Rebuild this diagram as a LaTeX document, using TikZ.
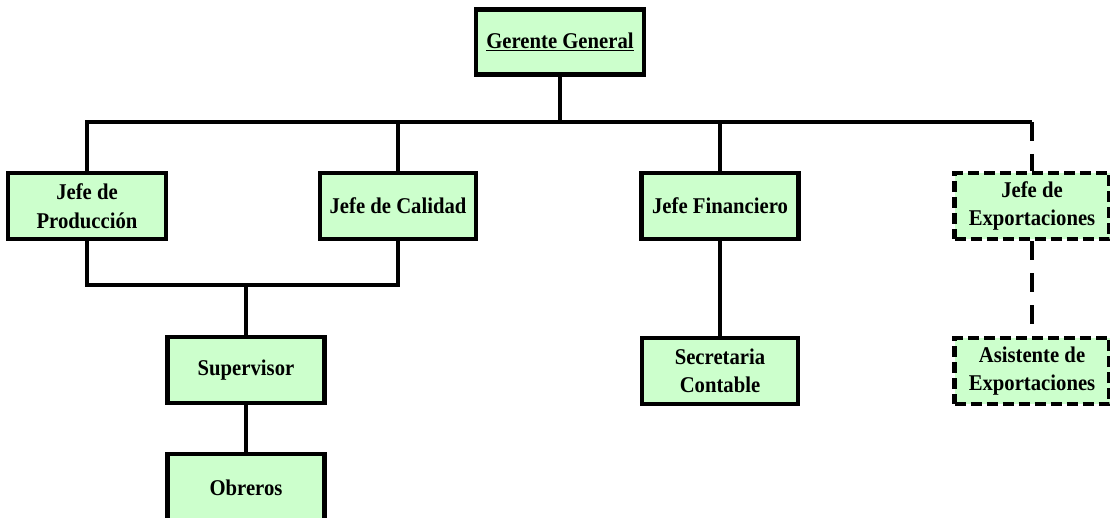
\documentclass[tikz,border=0pt]{standalone}
\usepackage{fontspec}
\setmainfont{Liberation Serif}
\newfontfamily\fuentecaja[FakeStretch=0.92]{Liberation Serif}
\usepackage{xcolor}
\usepackage{tikz}
\usetikzlibrary{calc, positioning}

\definecolor{verdecaja}{HTML}{CCFFCC}

\begin{document}
\begin{tikzpicture}[x=1pt, y=-1pt,
    caja/.style={draw, line width=4.5pt, fill=verdecaja, align=center,
        inner sep=0pt, minimum width=156pt, minimum height=66pt,
        font=\fuentecaja\fontsize{22.5}{28.5}\selectfont\bfseries},
    cajapunteada/.style={caja, dash pattern=on 11pt off 5pt},
    conector/.style={line width=3.2pt},
    barra/.style={line width=4.3pt},
    punteado/.style={line width=3.4pt, dash pattern=on 19pt off 13pt}]
    \useasboundingbox (0,0) rectangle (1110,518);

    % Cajas del organigrama
    \node[caja, minimum width=168pt, minimum height=65pt] (gerente) at (560,42) {\underline{Gerente General}};
    \node[caja, minimum width=158pt] (produccion) at (87,206) {Jefe de\\Producción};
    \node[caja] (calidad) at (398,206) {Jefe de Calidad};
    \node[caja, minimum width=157pt] (financiero) at (720,206) {Jefe Financiero};
    \node[cajapunteada, minimum width=155pt] (exportaciones) at (1032,206) {Jefe de\\Exportaciones};
    \node[caja, minimum width=157pt] (supervisor) at (246,370) {Supervisor};
    \node[caja, minimum width=157pt, minimum height=68pt] (obreros) at (246,488) {Obreros};
    \node[caja] (secretaria) at (720,371) {Secretaria\\Contable};
    \node[cajapunteada, minimum width=155pt] (asistente) at (1032,371) {Asistente de\\Exportaciones};

    % Puntos de union
    \coordinate (bus) at (560,122);
    \coordinate (busder) at (1032,122);
    \coordinate (union) at (246,285);

    % Linea principal
    \draw[conector] (gerente.south) -- (bus);
    \draw[barra] (produccion.north) |- (busder);
    \draw[conector] (calidad.north) -- (calidad.north |- bus);
    \draw[conector] (financiero.north) -- (financiero.north |- bus);
    \draw[punteado] (busder) -- (exportaciones.north);

    % Produccion y calidad hacia supervisor
    \draw[conector] (produccion.south) |- (union) -| (calidad.south);
    \draw[conector] (union) -- (supervisor.north);
    \draw[conector] (supervisor.south) -- (obreros.north);

    % Dependencias restantes
    \draw[conector] (financiero.south) -- (secretaria.north);
    \draw[punteado] (exportaciones.south) -- (asistente.north);
\end{tikzpicture}
\end{document}
